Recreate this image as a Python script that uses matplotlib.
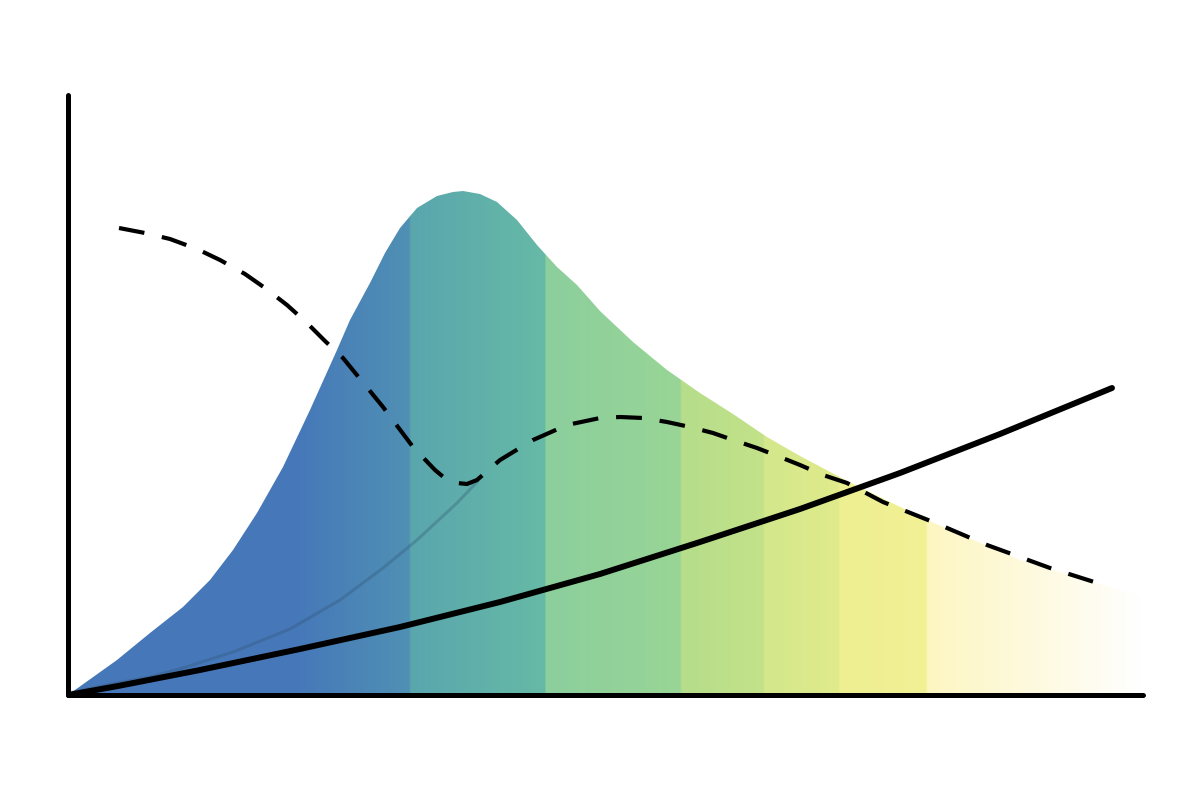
import numpy as np
import matplotlib.pyplot as plt
from matplotlib.colors import LinearSegmentedColormap
from matplotlib.patches import Polygon

# hump (filled area)
hump_x = [0, 49, 82, 115, 142, 165, 189, 215, 242, 269, 282, 302, 317, 332, 349, 369,
          385, 395, 412, 429, 449, 469, 489, 509, 532, 565, 599, 632, 665, 699, 732,
          785, 859, 952, 1042, 1075]
hump_y = [0, 35, 62, 88, 115, 145, 182, 228, 285, 345, 375, 412, 442, 467, 487, 499,
          503, 504, 501, 493, 475, 450, 428, 410, 384, 353, 325, 302, 281, 258, 239,
          211, 175, 135, 108, 98]

# dashed curve
dash_x = [51, 77, 102, 129, 152, 177, 197, 219, 239, 257, 275, 315, 345, 367, 379, 389,
          399, 409, 432, 465, 499, 532, 552, 575, 599, 622, 645, 665, 689, 712, 732,
          755, 779, 815, 865, 919, 982, 1042]
dash_y = [467, 462, 456, 446, 435, 421, 407, 390, 372, 354, 337, 288, 248, 225, 215, 212,
          211, 215, 235, 255, 270, 277, 278, 277, 273, 268, 262, 255, 247, 238, 230,
          220, 212, 193, 173, 150, 127, 108]

# faint rising part of the second curve
faint_x = [0, 49, 82, 115, 165, 222, 272, 315, 349, 389, 409]
faint_y = [2, 12, 18, 27, 43, 66, 95, 127, 155, 192, 213]

# solid line
line_x = [0, 50, 132, 232, 332, 432, 532, 632, 732, 832, 932, 1044]
line_y = [0, 9, 25, 46, 68, 93, 121, 153, 186, 222, 261, 307]

# colour bands along x
grad_pos = [0, 232, 341, 343, 476, 478, 612, 614, 695, 697, 771, 773, 859, 861, 972, 1075]
grad_col = ["#4677B9", "#4679B9", "#5090B4", "#5AA6AE", "#66BAA6", "#8CCF9D",
            "#98D596", "#B5DD8B", "#C3E289", "#D3E78B", "#E0EB8C", "#EDEF91",
            "#F2F195", "#FDF6C2", "#FEFAE0", "#FFFFFF"]


def main():
    fig = plt.figure(figsize=(12, 8), dpi=100)
    ax = fig.add_axes([68 / 1200, 105 / 800, 1075 / 1200, 600 / 800])
    ax.set_xlim(0, 1075)
    ax.set_ylim(0, 600)

    cmap = LinearSegmentedColormap.from_list(
        "hump", list(zip(np.array(grad_pos) / 1075, grad_col)), N=1024)
    grad = np.linspace(0, 1, 1075).reshape(1, -1)
    im = ax.imshow(grad, cmap=cmap, extent=[0, 1075, 0, 600], aspect="auto",
                   interpolation="nearest", zorder=1)
    verts = list(zip(hump_x, hump_y)) + [(hump_x[-1], 0), (hump_x[0], 0)]
    poly = Polygon(verts, closed=True, facecolor="none", edgecolor="none")
    ax.add_patch(poly)
    im.set_clip_path(poly)

    ax.plot(faint_x, faint_y, color="#2E4E6E", alpha=0.3, lw=2.2,
            solid_joinstyle="round", zorder=2)
    ax.plot(dash_x, dash_y, color="black", lw=3, dashes=(6.2, 4.3),
            dash_capstyle="butt", zorder=3)
    ax.plot(line_x, line_y, color="black", lw=4.3, solid_capstyle="round",
            solid_joinstyle="round", zorder=4)

    for side in ["top", "right"]:
        ax.spines[side].set_visible(False)
    for side in ["left", "bottom"]:
        ax.spines[side].set_linewidth(3.6)
        ax.spines[side].set_capstyle("round")
        ax.spines[side].set_zorder(5)
    ax.set_xticks([])
    ax.set_yticks([])
    ax.patch.set_alpha(0)

    fig.savefig("out.png", dpi=100)


if __name__ == "__main__":
    main()
